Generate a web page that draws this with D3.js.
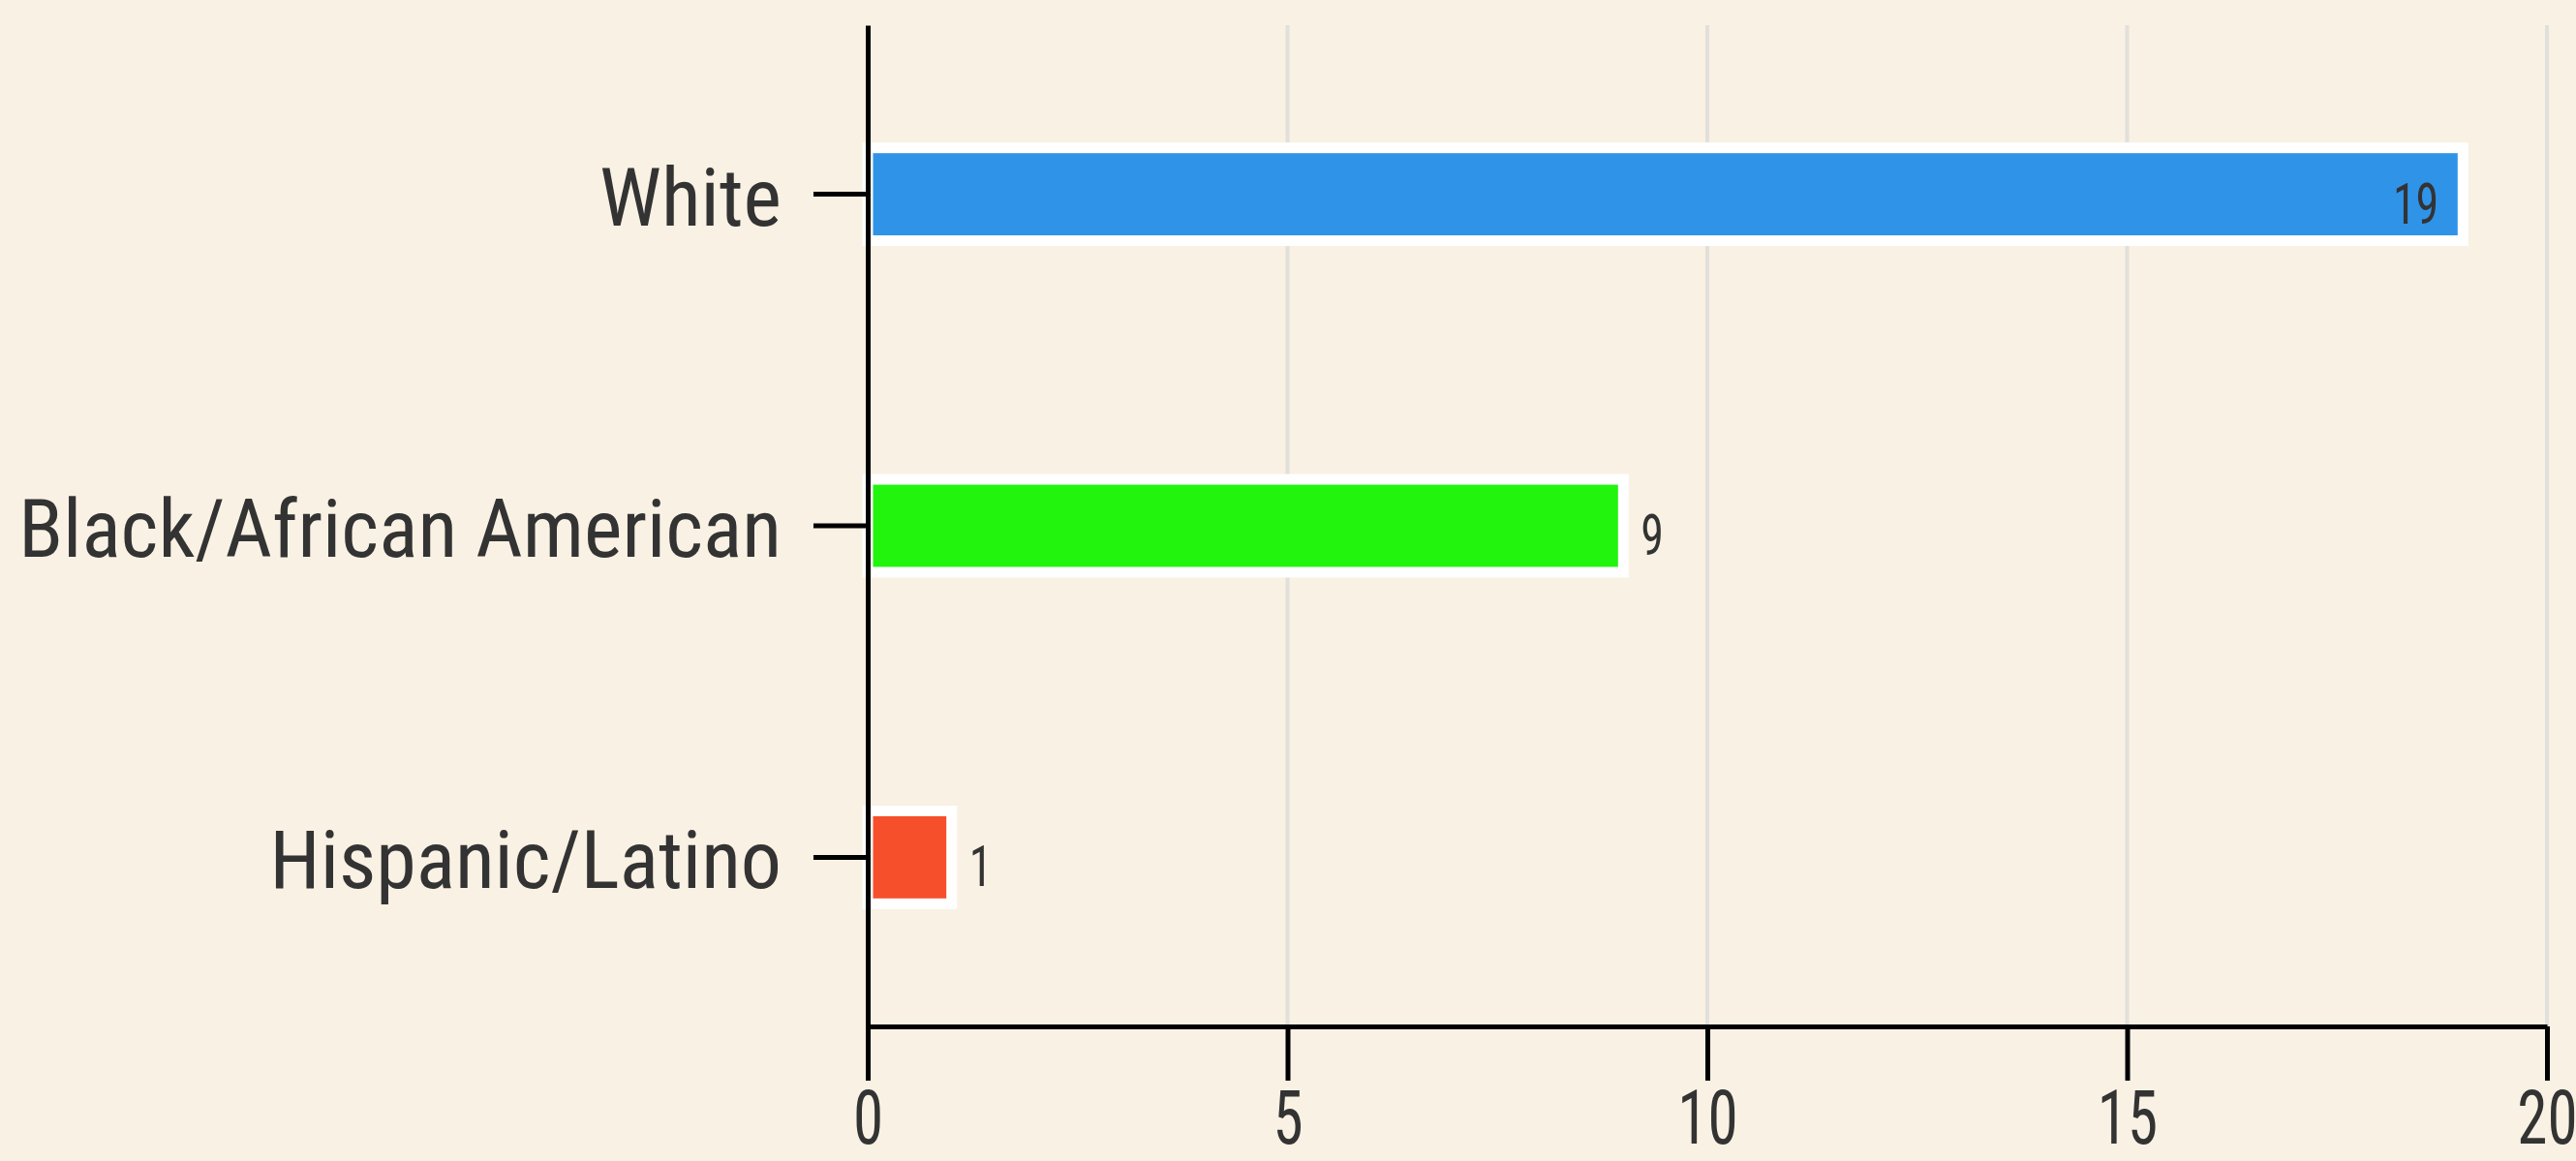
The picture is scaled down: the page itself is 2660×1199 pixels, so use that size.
<!DOCTYPE html>
<html>
<head>
<meta charset="utf-8">
<script src="https://cdn.jsdelivr.net/npm/d3@7"></script>
<style>
  html, body { margin: 0; padding: 0; background: #f9f1e3; overflow: hidden; }
  svg { display: block; }
  text { font-family: "Roboto Condensed", Roboto, sans-serif; fill: #333; }
</style>
</head>
<body>
<svg id="chart"></svg>
<script>
const categories = ['White', 'Black/African American', 'Hispanic/Latino'];
const counts = [19, 9, 1];
const barColors = ['#2f93e8', '#22f40e', '#f64f2b'];
const xTicks = [0, 5, 10, 15, 20];

const width = 2660, height = 1199;
const margin = {top: 26, right: 30, bottom: 139, left: 896};

const data = categories.map((c, i) => ({name: c, value: counts[i], color: barColors[i]}));

const svg = d3.select('#chart')
    .attr('width', width)
    .attr('height', height);

const chart = svg.append('g')
    .attr('transform', `translate(${margin.left}, ${margin.top})`);

const inner_width = 2630 - margin.left;
const inner_height = height - margin.top - margin.bottom;

const xscale = d3.scaleLinear()
    .domain([0, 20])
    .range([0, inner_width]);

const yscale = d3.scaleBand()
    .domain(categories)
    .range([0, inner_height])
    .paddingInner(0.72)
    .paddingOuter(0.37);

// grid
chart.append('g')
    .selectAll('line')
    .data(xTicks.slice(1))
    .join('line')
    .attr('x1', d => xscale(d))
    .attr('x2', d => xscale(d))
    .attr('y1', 0)
    .attr('y2', inner_height)
    .attr('stroke', '#e2e0dc')
    .attr('stroke-width', 4);

// bars
chart.selectAll('rect.bar')
    .data(data)
    .join('rect')
    .attr('class', 'bar')
    .attr('x', xscale(0))
    .attr('y', d => yscale(d.name))
    .attr('width', d => xscale(d.value) - xscale(0))
    .attr('height', yscale.bandwidth())
    .attr('fill', d => d.color)
    .attr('stroke', '#fff')
    .attr('stroke-width', 11);

// value labels
const vals = chart.selectAll('text.val')
    .data(data)
    .join('text')
    .attr('class', 'val')
    .style('font-size', '60px')
    .attr('y', d => yscale(d.name) + yscale.bandwidth() / 2)
    .attr('dy', '0.5em')
    .attr('x', d => d.value > 15 ? xscale(d.value) - 25 : xscale(d.value) + 18)
    .attr('text-anchor', d => d.value > 15 ? 'end' : 'start')
    .text(d => d.value);

const xaxis = d3.axisBottom(xscale)
    .tickValues(xTicks)
    .tickSize(56)
    .tickSizeOuter(0)
    .tickPadding(10);

const yaxis = d3.axisLeft(yscale)
    .tickSize(56)
    .tickSizeOuter(0)
    .tickPadding(33);

const xg = chart.append('g')
    .attr('transform', `translate(0, ${inner_height})`)
    .call(xaxis);

const yg = chart.append('g')
    .call(yaxis);

[xg, yg].forEach(g => {
    g.select('.domain').attr('stroke', '#000').attr('stroke-width', 5);
    g.selectAll('.tick line').attr('stroke', '#000').attr('stroke-width', 5);
    g.selectAll('.tick text')
        .attr('fill', '#333')
        .style('font-family', '"Roboto Condensed", Roboto, sans-serif');
});
yg.selectAll('.tick text').style('font-size', '84px').attr('dy', '0.38em');
xg.selectAll('.tick text').style('font-size', '77px');

// narrow the digits a bit
function squeeze(sel, k) {
    sel.each(function() {
        const len = this.getComputedTextLength();
        d3.select(this)
            .attr('textLength', len * k)
            .attr('lengthAdjust', 'spacingAndGlyphs');
    });
}
squeeze(vals, 0.8);
squeeze(xg.selectAll('.tick text'), 0.82);
</script>
</body>
</html>
